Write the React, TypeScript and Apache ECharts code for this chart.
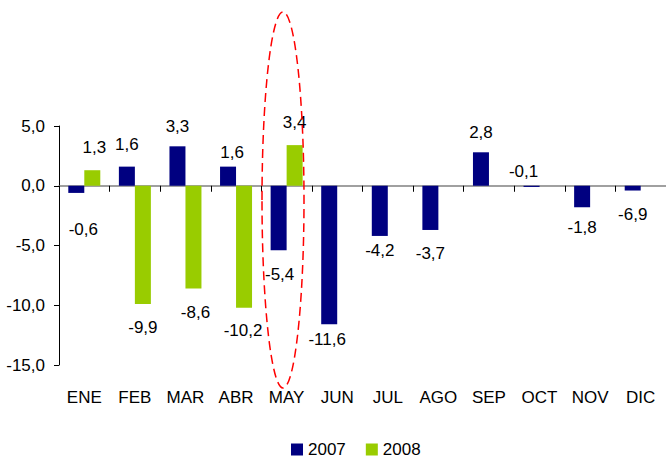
import React, { useEffect, useRef } from "react";
import * as echarts from "echarts";

const months = ["ENE", "FEB", "MAR", "ABR", "MAY", "JUN", "JUL", "AGO", "SEP", "OCT", "NOV", "DIC"];
const values2007 = [-0.6, 1.6, 3.3, 1.6, -5.4, -11.6, -4.2, -3.7, 2.8, -0.1, -1.8, -0.4];
const labels2007 = ["-0,6", "1,6", "3,3", "1,6", "-5,4", "-11,6", "-4,2", "-3,7", "2,8", "-0,1", "-1,8", "-6,9"];
const values2008 = [1.3, -9.9, -8.6, -10.2, 3.4, null, null, null, null, null, null, null];
const labels2008 = ["1,3", "-9,9", "-8,6", "-10,2", "3,4", "", "", "", "", "", "", ""];
const yTicks = { min: -15, max: 5, interval: 5 };

// label styling (placement of the printed value labels, as in the original)
const labelAbove2007 = [false, true, true, true, false, false, false, false, true, true, false, false];
const labelGap2007 = [37, 22, 20, 14, 24, 15, 15, 24, 20, 14, 20, 24];
const labelShiftX2007 = [7, 0, 0, 4, 1, -2, 0, 0, 0, -8, 0, 0];
const labelGap2008 = [23, 23, 24, 23, 23, 0, 0, 0, 0, 0, 0, 0];
const labelShiftX2008 = [2, 0, 2, -1, 0, 0, 0, 0, 0, 0, 0, 0];

const FONT = "'Liberation Sans', Arial, sans-serif";
const FS = 17;

function buildData(
  values: (number | null)[],
  above: boolean[] | null,
  gaps: number[],
  shifts: number[]
) {
  return values.map((v, i) => {
    if (v === null) return null;
    const isAbove = above ? above[i] : v >= 0;
    const d = gaps[i] - FS / 2;
    return {
      value: v,
      label: {
        position: isAbove ? "top" : "bottom",
        distance: 0,
        offset: [shifts[i], isAbove ? -d : d],
      },
    };
  });
}

export default function App() {
  const ref = useRef<HTMLDivElement>(null);
  useEffect(() => {
    if (!ref.current) return;
    const chart = echarts.init(ref.current, null, { renderer: "svg" });
    chart.setOption({
      animation: false,
      backgroundColor: "#ffffff",
      textStyle: { fontFamily: FONT },
      grid: { left: 59, right: -2, top: 126, bottom: 98, containLabel: false },
      legend: {
        data: ["2007", "2008"],
        left: 291,
        top: 441,
        padding: 0,
        itemWidth: 12,
        itemHeight: 12,
        itemGap: 20,
        itemStyle: { borderWidth: 0 },
        icon: "rect",
        textStyle: { fontSize: FS, fontFamily: FONT, color: "#000" },
      },
      xAxis: [
        {
          type: "category",
          data: months,
          position: "bottom",
          axisLine: { onZero: true, lineStyle: { color: "#808080", width: 1.5 } },
          axisTick: { show: true, inside: false, interval: 0, length: 6, lineStyle: { color: "#000", width: 1 } },
          axisLabel: { show: false, interval: 0 },
          splitLine: { show: false },
        },
        {
          type: "category",
          data: months,
          position: "bottom",
          axisLine: { show: false, onZero: false },
          axisTick: { show: false },
          axisLabel: { show: true, interval: 0, margin: 24, fontSize: FS, fontFamily: FONT, color: "#000" },
          splitLine: { show: false },
        },
      ],
      yAxis: {
        type: "value",
        min: yTicks.min,
        max: yTicks.max,
        interval: yTicks.interval,
        axisLine: { show: true, lineStyle: { color: "#000", width: 1 } },
        axisTick: { show: true, length: 5, lineStyle: { color: "#000", width: 1 } },
        splitLine: { show: false },
        axisLabel: {
          fontSize: FS,
          fontFamily: FONT,
          color: "#000",
          margin: 14,
          formatter: (v: number) => v.toFixed(1).replace(".", ","),
        },
      },
      series: [
        {
          name: "2007",
          type: "bar",
          xAxisIndex: 0,
          data: buildData(values2007, labelAbove2007, labelGap2007, labelShiftX2007),
          barWidth: 16,
          barGap: "0%",
          itemStyle: { color: "#000080" },
          label: {
            show: true,
            fontSize: FS,
            fontFamily: FONT,
            color: "#000",
            formatter: (p: any) => labels2007[p.dataIndex],
          },
        },
        {
          name: "2008",
          type: "bar",
          xAxisIndex: 0,
          data: buildData(values2008, null, labelGap2008, labelShiftX2008),
          barWidth: 16,
          barGap: "0%",
          itemStyle: { color: "#99CC00" },
          label: {
            show: true,
            fontSize: FS,
            fontFamily: FONT,
            color: "#000",
            formatter: (p: any) => labels2008[p.dataIndex],
          },
        },
      ],
      graphic: [
        {
          type: "ellipse",
          silent: true,
          z: 100,
          shape: { cx: 283, cy: 200, rx: 21, ry: 188 },
          style: { fill: "none", stroke: "#ff0000", lineWidth: 1.5, lineDash: [9, 5] },
        },
      ],
    });
    return () => chart.dispose();
  }, []);
  return (
    <div
      ref={ref}
      style={{ position: "absolute", left: 0, top: 0, width: 666, height: 463 }}
    />
  );
}
